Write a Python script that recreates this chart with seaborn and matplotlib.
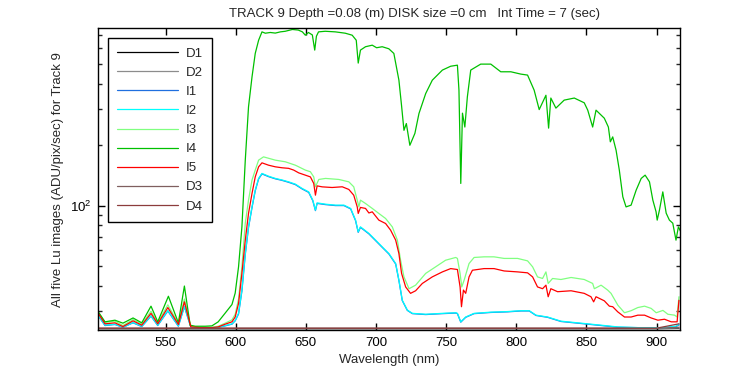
import matplotlib
matplotlib.use("Agg")
import matplotlib.pyplot as plt
from matplotlib.ticker import NullFormatter
import seaborn as sns
import pandas as pd

# ---------------- data ----------------
wl_I4 = [502.0, 506.8, 513.9, 519.6, 526.8, 533.0, 539.6, 544.4, 552.0, 559.1, 563.4, 567.5,
         571.1, 578.2, 583.0, 587.5, 592.5, 597.3, 599.6, 602.0, 604.4, 606.8, 609.1, 611.6,
         613.9, 616.3, 618.7, 621.1, 624.6, 628.2, 631.8, 635.3, 640.4, 644.6, 647.5, 649.6,
         651.8, 654.6, 656.3, 657.5, 659.0, 663.8, 671.0, 678.1, 683.0, 685.9, 687.3, 688.9,
         692.5, 697.3, 700.4, 704.4, 709.1, 712.7, 716.3, 718.2, 719.9, 721.6, 724.1, 727.7,
         730.6, 735.4, 740.1, 747.3, 753.2, 758.0, 759.1, 760.4, 761.6, 763.3, 765.1, 767.5,
         774.6, 781.8, 788.9, 796.1, 803.2, 808.0, 812.7, 816.3, 821.1, 823.0, 824.6, 828.2,
         834.1, 841.3, 848.4, 850.9, 854.4, 856.8, 862.7, 865.6, 867.0, 868.7, 871.1, 873.4,
         875.9, 878.2, 881.8, 885.4, 889.0, 891.8, 894.9, 897.3, 899.6, 900.4, 902.0, 904.4,
         906.8, 909.1, 911.5, 913.8, 915.5, 916.9]
I4 = [29.8, 26.6, 27.1, 26.2, 27.8, 26.3, 31.8, 26.6, 35.6, 26.3, 40.0, 25.6,
      25.3, 25.3, 25.4, 26.6, 29.4, 32.4, 36.9, 49.8, 78.5, 168, 308, 434,
      567, 659, 725, 714, 720, 715, 725, 730, 745, 740, 725, 698,
      720, 700, 589, 690, 725, 730, 725, 714, 698, 659, 508, 589,
      612, 623, 605, 612, 598, 567, 418, 312, 236, 255, 199, 228,
      286, 359, 418, 469, 490, 496, 373, 128.8, 287, 245, 346, 469,
      502, 502, 460, 460, 448, 443, 373, 299, 352, 242, 341, 304,
      333, 341, 323, 297, 245, 297, 271, 245, 207, 219, 188, 150,
      110.6, 98.6, 100.6, 119.3, 136.4, 141.6, 131.2, 106.5, 93.2, 84.8, 95, 117,
      91.8, 84.8, 81.9, 67.5, 78.5, 75]

wl_I5 = [502.0, 506.8, 513.9, 519.6, 526.8, 533.0, 539.6, 544.4, 551.6, 559.1, 563.4, 568.0,
         574.6, 583.0, 587.5, 592.5, 597.3, 599.6, 602.0, 604.4, 606.8, 609.1, 611.6, 613.9,
         616.3, 618.7, 623.4, 628.2, 633.0, 637.7, 641.3, 644.9, 649.6, 653.2, 655.6, 656.8,
         658.0, 661.6, 668.7, 675.9, 680.6, 684.1, 686.6, 687.3, 688.9, 692.5, 694.9, 697.3,
         702.0, 706.8, 710.4, 714.0, 716.3, 718.2, 721.1, 724.6, 728.2, 733.0, 740.1, 747.3,
         753.2, 758.0, 759.9, 760.9, 762.3, 763.9, 766.3, 768.7, 777.0, 784.1, 791.3, 800.9,
         808.0, 811.6, 815.1, 818.7, 821.1, 822.7, 824.6, 829.4, 839.0, 848.4, 853.2, 855.1,
         856.8, 862.7, 866.3, 868.7, 872.3, 877.1, 881.8, 886.6, 891.4, 896.1, 900.9, 905.6,
         910.4, 914.6, 915.9]
I5 = [29.3, 26.0, 26.3, 25.2, 26.9, 25.6, 29.3, 26.0, 31.3, 25.8, 33.4, 25.1,
      24.9, 24.9, 25.1, 25.9, 26.6, 28.1, 32.8, 46.2, 67.5, 91.5, 115, 138.8,
      155.7, 162.9, 158.6, 155.7, 154, 153, 150, 145.3, 141.6, 138.8, 128.8, 112.7,
      125.3, 123.9, 123, 124, 120.3, 112.7, 98.6, 91.5, 98, 96.9, 92, 93.2,
      84.8, 81.6, 75.6, 67.5, 57.9, 46.2, 39.6, 36.8, 37.9, 41.2, 44.4, 47.0,
      48.8, 48.3, 39.6, 31.6, 38.2, 36.8, 44.4, 47.9, 48.8, 48.8, 47.5, 47.0,
      46.5, 44.4, 39.6, 38.8, 40.4, 35.4, 38.8, 37.5, 37.9, 36.8, 35.4, 33.4,
      35.4, 33.8, 31.8, 31.6, 29.8, 28.1, 28.1, 28.7, 28.7, 27.8, 27.1, 27.4,
      26.6, 26.6, 34.0]

wl_I3 = [502.0, 506.8, 513.9, 519.6, 526.8, 533.0, 539.6, 544.4, 551.6, 559.1, 563.4, 568.0,
         574.6, 583.0, 587.5, 592.5, 597.3, 599.6, 602.0, 604.4, 606.8, 609.1, 611.6, 613.9,
         616.3, 619.8, 628.2, 635.3, 642.5, 649.6, 653.2, 655.6, 656.8, 659.2, 664.0, 673.5,
         680.6, 684.1, 686.6, 687.8, 688.9, 692.5, 697.3, 702.0, 706.8, 711.6, 715.2, 717.5,
         719.9, 723.5, 728.2, 735.4, 742.5, 749.6, 756.8, 758.0, 759.9, 761.1, 762.8, 766.3,
         769.9, 777.0, 784.1, 791.3, 800.9, 808.0, 811.6, 815.1, 818.7, 821.1, 822.7, 825.8,
         831.8, 839.0, 848.4, 854.4, 855.6, 860.4, 865.1, 867.5, 872.3, 877.1, 881.8, 886.6,
         891.4, 896.1, 899.7, 904.5, 908.0, 912.8, 914.6, 915.9]
I3 = [29.8, 26.4, 26.8, 25.5, 27.3, 25.9, 30.0, 26.3, 32.3, 26.0, 34.5, 25.3,
      25.0, 25.0, 25.3, 26.2, 27.2, 29.0, 34.5, 50.0, 81.9, 106.5, 134, 150,
      168, 174.4, 168, 164.9, 158.6, 150, 147.2, 138.8, 124, 134.8, 136.4, 134.8,
      131.2, 124, 106.5, 98.6, 106.5, 102.5, 96.9, 91.5, 86.4, 78.5, 67.5, 53.7,
      44.4, 38.8, 40.4, 46.2, 49.8, 53.7, 55.4, 54.8, 46.2, 39.6, 42.8, 51.7,
      55.4, 55.8, 55.8, 54.8, 54.8, 53.3, 49.8, 44.4, 43.6, 47.0, 41.2, 43.6,
      43.1, 44.1, 43.1, 41.2, 38.8, 40.4, 38.2, 36.8, 32.2, 29.5, 30.2, 31.3,
      31.8, 31.0, 29.5, 30.3, 29.0, 28.7, 28.1, 35.4]

wl_I2 = [502.0, 506.8, 513.9, 519.6, 526.8, 533.0, 539.6, 544.4, 551.6, 559.1, 563.4, 568.0,
         574.6, 583.0, 587.5, 592.5, 597.3, 599.6, 602.0, 604.4, 606.8, 609.1, 611.6, 613.9,
         616.3, 618.7, 623.4, 628.2, 633.0, 637.7, 642.5, 647.3, 652.0, 654.9, 656.8, 658.0,
         664.0, 671.1, 677.1, 681.9, 685.4, 687.3, 688.9, 694.9, 699.7, 704.4, 709.2, 714.0,
         716.3, 718.7, 722.3, 725.9, 735.4, 747.3, 756.8, 758.0, 760.4, 763.9, 769.9, 781.8,
         793.7, 803.2, 809.2, 814.0, 822.3, 831.8, 848.4, 860.4, 872.3, 886.6, 905.6, 913.8,
         915.9]
I2 = [28.6, 25.6, 25.9, 25.0, 26.4, 25.3, 28.5, 25.6, 30.3, 25.4, 31.8, 25.0,
      24.9, 24.9, 25.0, 25.5, 26.0, 27.0, 29.3, 38.2, 57.9, 78.5, 98.6, 119.3,
      136.4, 144.4, 139.9, 136.4, 134, 131.2, 127.8, 121.7, 117, 106.5, 95, 103.2,
      101.7, 100.6, 100.6, 96.9, 84.8, 74.2, 78.5, 72.9, 67.5, 62.5, 57.9, 51.7,
      42.8, 34.0, 30.4, 29.3, 29.0, 29.3, 29.5, 29.3, 26.6, 28.1, 29.3, 29.7,
      29.9, 30.2, 30.2, 28.7, 28.1, 26.8, 26.1, 25.6, 25.1, 24.9, 24.9, 25.3,
      25.9]

wl_I1 = wl_I2
I1 = [28.5, 25.5, 25.8, 25.0, 26.3, 25.2, 28.4, 25.5, 30.1, 25.3, 31.6, 25.0,
      24.9, 24.9, 25.0, 25.4, 25.9, 26.9, 29.1, 37.8, 57.3, 77.9, 97.9, 118.5,
      135.6, 143.6, 139.2, 135.8, 133.4, 130.5, 127.1, 121.0, 116.3, 105.9, 94.5, 102.6,
      101.2, 100.1, 100.1, 96.4, 84.3, 73.8, 78.1, 72.5, 67.1, 62.2, 57.6, 51.4,
      42.6, 33.9, 30.3, 29.2, 28.9, 29.2, 29.4, 29.2, 26.5, 28.0, 29.2, 29.6,
      29.8, 30.1, 30.1, 28.6, 28.0, 26.7, 26.0, 25.5, 25.0, 24.9, 24.9, 25.2,
      25.7]

wl_D = [502, 520, 540, 560, 580, 600, 620, 640, 660, 680, 700, 720, 740, 760, 780, 800,
        820, 840, 860, 880, 900, 915.9]
D1 = [24.6, 24.6, 24.6, 24.6, 24.6, 24.6, 24.6, 24.6, 24.6, 24.6, 24.6, 24.6, 24.6, 24.6,
      24.6, 24.6, 24.6, 24.6, 24.6, 24.6, 24.6, 24.7]
D2 = [24.65, 24.65, 24.65, 24.65, 24.65, 24.65, 24.65, 24.65, 24.65, 24.65, 24.65, 24.65,
      24.65, 24.65, 24.65, 24.65, 24.65, 24.65, 24.65, 24.65, 24.65, 24.8]
D3 = [24.7, 24.7, 24.7, 24.7, 24.7, 24.7, 24.7, 24.7, 24.7, 24.7, 24.7, 24.7, 24.7, 24.7,
      24.7, 24.7, 24.7, 24.7, 24.7, 24.7, 24.7, 25.0]
D4 = [24.75, 24.75, 24.75, 24.75, 24.75, 24.75, 24.75, 24.75, 24.75, 24.75, 24.75, 24.75,
      24.75, 24.75, 24.75, 24.75, 24.75, 24.75, 24.75, 24.75, 24.75, 26.0]

series = [
    ("D1", wl_D, D1, "#000000"),
    ("D2", wl_D, D2, "#8c8c8c"),
    ("I1", wl_I1, I1, "#1f6fdf"),
    ("I2", wl_I2, I2, "#00ffff"),
    ("I3", wl_I3, I3, "#80ff80"),
    ("I4", wl_I4, I4, "#00c000"),
    ("I5", wl_I5, I5, "#ff0000"),
    ("D3", wl_D, D3, "#7f5f5f"),
    ("D4", wl_D, D4, "#8c3c3c"),
]

title = "TRACK 9 Depth =0.08 (m) DISK size =0 cm   Int Time = 7 (sec)"
xlabel = "Wavelength (nm)"
ylabel = "All five Lu images (ADU/pix/sec) for Track 9"
xticks = [550, 600, 650, 700, 750, 800, 850, 900]

# ---------------- plot ----------------
sns.set_style("ticks")
plt.rcParams["font.family"] = ["Liberation Sans", "DejaVu Sans"]
FS = 9.5

fig = plt.figure(figsize=(7.5, 3.75), dpi=100)
ax = fig.add_axes([0.131, 0.1187, 0.775, 0.8058])

for name, wl, vals, col in series:
    df = pd.DataFrame({"wl": wl, "v": vals})
    sns.lineplot(data=df, x="wl", y="v", ax=ax, color=col, lw=0.9,
                 label=name, estimator=None, sort=False)

ax.set_yscale("log")
ax.set_xlim(502, 916.3)
ax.set_ylim(24.1, 755)
ax.set_xticks(xticks)
ax.set_xticklabels([str(t) for t in xticks])
ax.yaxis.set_minor_formatter(NullFormatter())
ax.tick_params(which="major", direction="in", top=True, right=True, length=5,
               width=1, labelsize=FS, pad=5, colors="black")
ax.tick_params(which="minor", direction="in", right=True, left=True, length=3, width=1)
ax.tick_params(axis="x", which="minor", bottom=False, top=False)
for s in ax.spines.values():
    s.set_linewidth(1.0)
    s.set_color("black")

ax.set_title(title, fontsize=FS, pad=8, x=0.544)
ax.set_xlabel(xlabel, fontsize=FS, labelpad=3)
ax.set_ylabel(ylabel, fontsize=FS, labelpad=4)

leg = ax.legend(loc="upper left", bbox_to_anchor=(0.0172, 0.967), borderaxespad=0,
                fontsize=FS, handlelength=4.6, handletextpad=0.6, labelspacing=0.52,
                borderpad=0.7, fancybox=False, framealpha=1, edgecolor="black")
leg.get_frame().set_linewidth(1.0)

fig.savefig("out.png", dpi=100)
